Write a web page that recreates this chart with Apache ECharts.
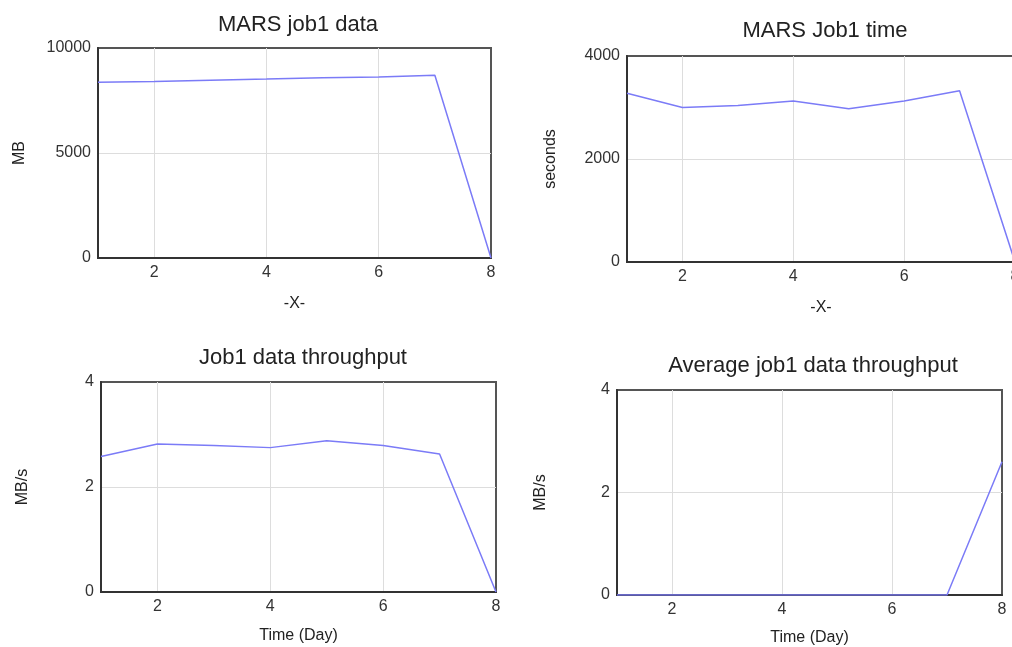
<!DOCTYPE html>
<html>
<head>
<meta charset="utf-8">
<script src="https://cdn.jsdelivr.net/npm/echarts@6/dist/echarts.min.js"></script>
<style>
  html, body { margin: 0; padding: 0; background: #fff; }
  #charts { width: 1012px; height: 647px; }
</style>
</head>
<body>
<div id="charts"></div>
<script>
var days = [1, 2, 3, 4, 5, 6, 7, 8];
var jobData = [8370, 8400, 8470, 8520, 8580, 8620, 8700, 0];
var jobTime = [3275, 3000, 3040, 3125, 2975, 3125, 3325, 0];
var throughput = [2.58, 2.82, 2.79, 2.75, 2.88, 2.79, 2.63, 0];
var avgThroughput = [0, 0, 0, 0, 0, 0, 0, 2.6];

var titles = ['MARS job1 data', 'MARS Job1 time', 'Job1 data throughput', 'Average job1 data throughput'];
var yNames = ['MB', 'seconds', 'MB/s', 'MB/s'];
var xNames = ['-X-', '-X-', 'Time (Day)', 'Time (Day)'];
var yMax = [10000, 4000, 4, 4];
var yStep = [5000, 2000, 2, 2];

function pairs(vals) {
	var out = [];
	for (var i = 0; i < days.length; i++) {
		out.push([days[i], vals[i]]);
	}
	return out;
}

var font = "'Liberation Sans', Arial, sans-serif";
var lineColor = '#7b7bf7';

// plot boxes
var grids = [
	{ left: 98, top: 48, width: 393, height: 210 },
	{ left: 627, top: 56, width: 388, height: 206 },
	{ left: 101, top: 382, width: 395, height: 210 },
	{ left: 617, top: 390, width: 385, height: 205 }
];
var titlePos = [[293, 9], [820, 15], [298, 342], [808, 350]];
var yGap = [70, 68, 70, 68];
var xGap = [38, 38, 36, 35];
var allData = [jobData, jobTime, throughput, avgThroughput];

var option = {
	animation: false,
	backgroundColor: '#fff',
	title: [],
	grid: [],
	xAxis: [],
	yAxis: [],
	series: []
};

for (var i = 0; i < 4; i++) {
	option.title.push({
		text: titles[i],
		left: titlePos[i][0],
		top: titlePos[i][1],
		textAlign: 'center',
		textStyle: { fontFamily: font, fontSize: 22, fontWeight: 'normal', color: '#222' }
	});
	option.grid.push({
		left: grids[i].left, top: grids[i].top,
		width: grids[i].width, height: grids[i].height,
		outerBoundsMode: 'none',
		show: true, borderColor: '#555', borderWidth: 2, backgroundColor: '#fff'
	});
	option.xAxis.push({
		type: 'value', gridIndex: i, min: 1, max: 8, splitNumber: 4,
		name: xNames[i], nameLocation: 'middle', nameGap: xGap[i],
		nameTextStyle: { fontFamily: font, fontSize: 16, color: '#222' },
		axisLine: { lineStyle: { color: '#333', width: 2 } },
		axisTick: { show: false },
		axisLabel: { showMinLabel: false, fontFamily: font, fontSize: 16, color: '#333', margin: 7 },
		splitLine: { show: true, showMinLine: false, showMaxLine: false, lineStyle: { color: '#ddd', width: 1 } }
	});
	option.yAxis.push({
		type: 'value', gridIndex: i, min: 0, max: yMax[i], interval: yStep[i],
		name: yNames[i], nameLocation: 'middle', nameGap: yGap[i],
		nameTextStyle: { fontFamily: font, fontSize: 16, color: '#222' },
		axisLine: { show: true, lineStyle: { color: '#333', width: 2 } },
		axisTick: { show: false },
		axisLabel: {
			fontFamily: font, fontSize: 16, color: '#333', margin: 7,
			formatter: function (v) { return String(v); }
		},
		splitLine: { show: true, showMinLine: false, showMaxLine: false, lineStyle: { color: '#ddd', width: 1 } }
	});
	option.series.push({
		type: 'line', xAxisIndex: i, yAxisIndex: i,
		data: pairs(allData[i]),
		symbol: 'none',
		lineStyle: { color: lineColor, width: 1.5 },
		z: 3
	});
}

var myChart = echarts.init(document.getElementById('charts'));
myChart.setOption(option);
</script>
</body>
</html>
